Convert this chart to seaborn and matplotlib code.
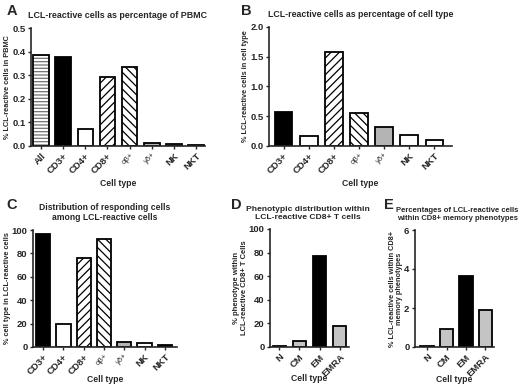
import numpy as np
import pandas as pd
import seaborn as sns
import matplotlib
matplotlib.use('Agg')
import matplotlib.pyplot as plt

# values
cells_a = ['All', 'CD3+', 'CD4+', 'CD8+', 'αβ+', 'γδ+', 'NK', 'NKT']
pbmc_pct = [0.385, 0.378, 0.073, 0.292, 0.333, 0.012, 0.010, 0.004]

cells_bc = ['CD3+', 'CD4+', 'CD8+', 'αβ+', 'γδ+', 'NK', 'NKT']
celltype_pct = [0.565, 0.17, 1.575, 0.548, 0.32, 0.18, 0.097]
distrib_pct = [96.5, 20.0, 76.0, 92.0, 4.0, 3.2, 1.5]

phenos = ['N', 'CM', 'EM', 'EMRA']
pheno_pct = [0.8, 5.0, 77.0, 18.0]
memory_pct = [0.05, 0.92, 3.65, 1.92]

# bar fill / hatch per category
fill = {'All': 'white', 'CD3+': 'black', 'CD4+': 'white', 'CD8+': 'white',
        'αβ+': 'white', 'γδ+': '#b4b4b4', 'NK': 'white', 'NKT': 'white'}
hatch = {'All': '-----', 'CD8+': '////', 'αβ+': '\\\\\\\\'}
fill_a = dict(fill, NK='#b4b4b4', NKT='#555555')
fill_c = dict(fill, NKT='black')
fill_d = {'N': 'white', 'CM': '#c4c4c4', 'EM': 'black', 'EMRA': '#c4c4c4'}

sns.set_style('ticks')
plt.rcParams['font.family'] = ['Liberation Sans', 'DejaVu Sans']
plt.rcParams['font.weight'] = 'bold'
plt.rcParams['hatch.linewidth'] = 0.9

W, H = 520, 387
fig = plt.figure(figsize=(W / 100, H / 100), dpi=100)


def box(l, r, b, t):
    return [l / W, 1 - b / H, (r - l) / W, (b - t) / H]


def panel(rect, cats, vals, colors, title, ylabel, ylim, yticks, yfmt, xlim,
          width=0.7, tsize=6.1, tx=0.5, ysize=5.3, xlab_off=33):
    ax = fig.add_axes(box(*rect))
    df = pd.DataFrame({'cell': cats, 'val': vals})
    sns.barplot(data=df, x='cell', y='val', hue='cell', palette=colors,
                hue_order=cats, order=cats, width=width, edgecolor='black',
                linewidth=1.3, saturation=1, legend=False, ax=ax)
    for cont, c in zip(ax.containers, cats):
        for p in cont:
            if c in hatch:
                p.set_hatch(hatch[c])
            if c == 'All':
                # lighter stripes inside the All bar
                p._hatch_color = (0.45, 0.45, 0.45, 1.0)
    ax.set_ylim(*ylim)
    ax.set_xlim(*xlim)
    ax.set_yticks(yticks)
    ax.set_yticklabels([yfmt.format(v) for v in yticks])
    ax.set_title(title, fontsize=tsize, fontweight='bold', pad=7, linespacing=1.25, x=tx)
    ax.set_ylabel(ylabel, fontsize=ysize, fontweight='bold', labelpad=0.5, linespacing=1.15)
    ax.set_xlabel('Cell type', fontsize=6.2, fontweight='bold')
    hpx = rect[2] - rect[3]
    ax.xaxis.set_label_coords(0.5, -xlab_off / hpx)
    sns.despine(ax=ax)
    for s in ['left', 'bottom']:
        ax.spines[s].set_linewidth(1.2)
    ax.tick_params(axis='both', length=2.5, width=1, pad=1.5, labelsize=6.8)
    for lab in ax.get_xticklabels():
        lab.set_rotation(45)
        lab.set_ha('right')
        lab.set_rotation_mode('anchor')
        if lab.get_text() in ('αβ+', 'γδ+'):
            lab.set_fontsize(5.5)
            lab.set_fontweight('normal')
    return ax


panel((31, 205, 146, 28), cells_a, pbmc_pct, fill_a,
      'LCL-reactive cells as percentage of PBMC', '% LCL-reactive cells in PBMC',
      (0, 0.5), [0, 0.1, 0.2, 0.3, 0.4, 0.5], '{:.1f}', (-0.45, 7.4),
      tsize=6.4, xlab_off=33)
panel((269, 452, 146, 27), cells_bc, celltype_pct, fill,
      'LCL-reactive cells as percentage of cell type', '% LCL-reactive cells in cell type',
      (0, 2.0), [0, 0.5, 1.0, 1.5, 2.0], '{:.1f}', (-0.58, 6.7),
      tsize=6.3, xlab_off=33)
panel((33, 177, 347, 230), cells_bc, distrib_pct, fill_c,
      'Distribution of responding cells\namong LCL-reactive cells',
      '% cell type in LCL-reactive cells',
      (0, 100), [0, 20, 40, 60, 80, 100], '{:.0f}', (-0.5, 6.6),
      tsize=6.2, xlab_off=28)
panel((270, 349, 347, 229), phenos, pheno_pct, fill_d,
      'Phenotypic distribution within\nLCL-reactive CD8+ T cells',
      '% phenotype within\nLCL-reactive CD8+ T Cells',
      (0, 100), [0, 20, 40, 60, 80, 100], '{:.0f}', (-0.45, 3.45), width=0.65,
      tsize=6.1, tx=0.48, ysize=5.5, xlab_off=27)
panel((415, 494, 347, 230), phenos, memory_pct, fill_d,
      'Percentages of LCL-reactive cells\nwithin CD8+ memory phenotypes',
      '% LCL-reactive cells within CD8+\nmemory phenotypes',
      (0, 6), [0, 2, 4, 6], '{:.0f}', (-0.63, 3.45),
      tsize=5.5, tx=0.54, ysize=5.3, xlab_off=28)

for letter, x, y in [('A', 12, 11), ('B', 246, 11), ('C', 12, 205), ('D', 236, 205), ('E', 389, 205)]:
    fig.text(x / W, 1 - y / H, letter, fontsize=10.5, fontweight='bold', va='center', ha='center')

fig.savefig('out.png', dpi=100)
